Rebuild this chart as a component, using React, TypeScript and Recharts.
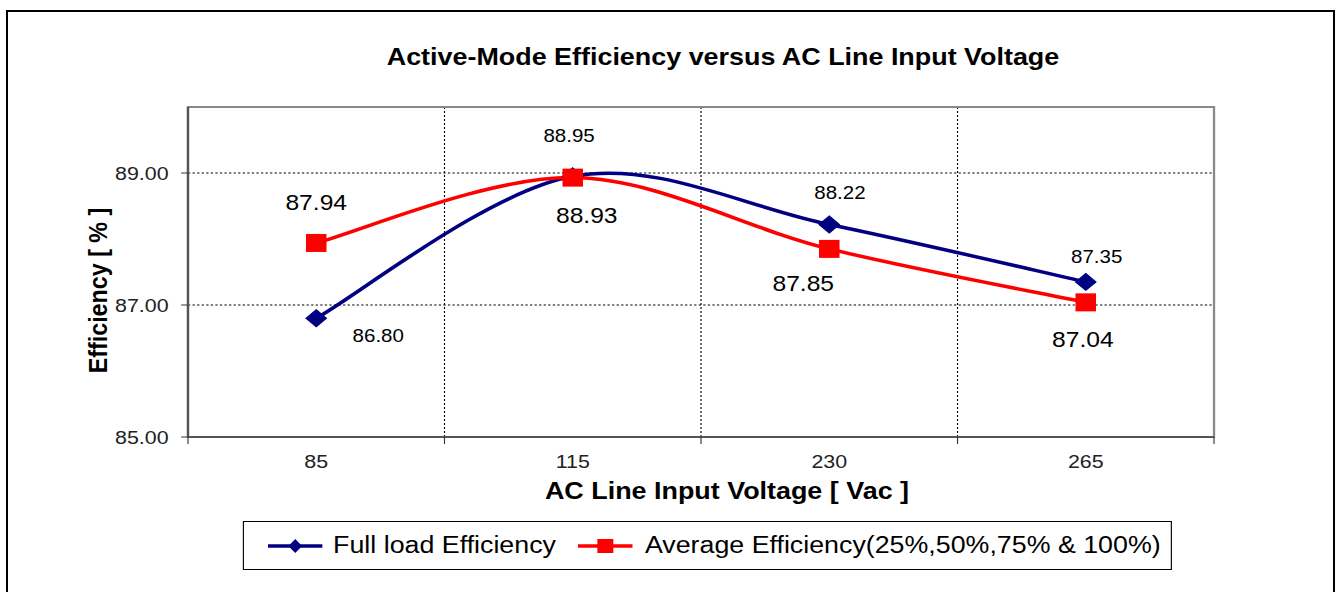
import React from 'react';
import { LineChart, Line, XAxis, YAxis, CartesianGrid, ReferenceArea, Label, LabelList } from 'recharts';

// ---------- data ----------
const categories = ['85', '115', '230', '265'];
const fullLoad = [86.8, 88.95, 88.22, 87.35];
const average = [87.94, 88.93, 87.85, 87.04];
const yTicks = [85, 87, 89];
const yDomain = [85, 90];
const seriesNames = ['Full load Efficiency', 'Average Efficiency(25%,50%,75% & 100%)'];
const chartTitle = 'Active-Mode Efficiency versus AC Line Input Voltage';
const xTitle = 'AC Line Input Voltage [ Vac ]';
const yTitle = 'Efficiency [ % ]';

const data = categories.map((c, i) => ({ idx: i, cat: c, full: fullLoad[i], avg: average[i] }));
const boundTicks = [-0.5, ...categories.map((_, i) => i + 0.5)];
const allXTicks = [...boundTicks, ...categories.map((_, i) => i)].sort((a, b) => a - b);

// ---------- style ----------
const S = 1.14; // horizontal stretch of the original picture
const W = 1340 / S;
const H = 592;
const FONT = '"Liberation Sans", Arial, Helvetica, sans-serif';
const BLUE = '#000080';
const RED = '#FF0000';

// label placement (dx in inner units, dy to label centre)
const blueLabelPos = [[54.4, 17], [-3.2, -40.6], [9.4, -32.3], [9.6, -25.7]];
const redLabelPos = [[0, -40.5], [12.3, 37.4], [-22.8, 34], [-2.6, 36.6]];

// Excel-like smoothing (Catmull-Rom bezier)
const excelSmooth: any = (context: any) => {
  let pts: number[][] = [];
  return {
    areaStart() {},
    areaEnd() {},
    lineStart() { pts = []; },
    point(x: number, y: number) { pts.push([+x, +y]); },
    lineEnd() {
      if (!pts.length) return;
      context.moveTo(pts[0][0], pts[0][1]);
      for (let i = 0; i < pts.length - 1; i++) {
        const p0 = pts[i - 1] || pts[i];
        const p1 = pts[i];
        const p2 = pts[i + 1];
        const p3 = pts[i + 2] || pts[i + 1];
        context.bezierCurveTo(
          p1[0] + (p2[0] - p0[0]) / 6, p1[1] + (p2[1] - p0[1]) / 6,
          p2[0] - (p3[0] - p1[0]) / 6, p2[1] - (p3[1] - p1[1]) / 6,
          p2[0], p2[1]
        );
      }
    },
  };
};

const DiamondDot = (props: any) => {
  const { cx, cy } = props;
  if (cx == null || cy == null) return null;
  return <path d={`M${cx},${cy - 8.5} L${cx + 9},${cy} L${cx},${cy + 8.5} L${cx - 9},${cy} Z`} fill={BLUE} stroke={BLUE} />;
};
const SquareDot = (props: any) => {
  const { cx, cy } = props;
  if (cx == null || cy == null) return null;
  return <rect x={cx - 9} y={cy - 9} width={18} height={18} fill={RED} />;
};

const makeLabel = (pos: number[][], size: number) => (props: any) => {
  const { x, y, index, value } = props;
  const [dx, dy] = pos[index];
  return (
    <text x={x + dx} y={y + dy + size * 0.36} textAnchor="middle" fontSize={size} fontFamily={FONT} fill="#000">
      {Number(value).toFixed(2)}
    </text>
  );
};

const XTick = (props: any) => {
  const { x, y, payload } = props;
  const v = payload.value;
  if (Number.isInteger(v)) {
    return (
      <text x={x} y={y + 18} dy="0.71em" textAnchor="middle" fontSize={18.8} fontFamily={FONT} fill="#222">
        {categories[v]}
      </text>
    );
  }
  return <line x1={x} x2={x} y1={y} y2={y + 7} stroke="#333" strokeWidth={1} />;
};

const LegendIcon = ({ color, kind }: { color: string; kind: string }) => (
  <svg width={48} height={20} style={{ display: 'block' }}>
    <line x1={0} x2={48} y1={10} y2={10} stroke={color} strokeWidth={3.5} />
    {kind === 'diamond' ? (
      <path d="M24,3 L30,10 L24,17 L18,10 Z" fill={color} />
    ) : (
      <rect x={17} y={3} width={14} height={14} fill={color} />
    )}
  </svg>
);

export default function App() {
  return (
    <div style={{ position: 'absolute', left: 0, top: 0, width: 1340, height: H, background: '#fff', overflow: 'hidden' }}>
      <div
        style={{
          position: 'absolute', left: 6, top: 10, width: 1329, height: 620,
          border: '2px solid #000', boxSizing: 'border-box',
        }}
      />
      <div style={{ position: 'absolute', left: 0, top: 0, width: W, height: H, transform: `scaleX(${S})`, transformOrigin: '0 0' }}>
        <LineChart width={W} height={H} data={data} margin={{ top: 107, right: 110.5, bottom: 0, left: 0 }}>
          <CartesianGrid
            stroke="#000"
            strokeDasharray="2 2"
            strokeWidth={1}
            horizontalValues={[87, 89]}
            verticalValues={boundTicks}
          />
          <ReferenceArea x1={-0.5} x2={3.5} y1={85} y2={90} fill="none" stroke="#888" strokeWidth={2} ifOverflow="visible" />
          <XAxis
            type="number"
            dataKey="idx"
            domain={[-0.5, 3.5]}
            ticks={allXTicks}
            interval={0}
            tickLine={false}
            tickSize={0}
            tickMargin={0}
            height={155}
            axisLine={{ stroke: '#555', strokeWidth: 2 }}
            tick={<XTick />}
          >
            <Label
              content={(p: any) => {
                const vb = p.viewBox || {};
                return (
                  <text x={vb.x + vb.width / 2 + 22.8} y={499} textAnchor="middle" fontSize={23.6} fontWeight="bold" fontFamily={FONT} fill="#000">
                    {xTitle}
                  </text>
                );
              }}
            />
          </XAxis>
          <YAxis
            type="number"
            domain={yDomain}
            ticks={yTicks}
            interval={0}
            width={164.9}
            tickSize={6}
            tickMargin={11}
            tickFormatter={(v: number) => v.toFixed(2)}
            tick={{ fontSize: 18.8, fill: '#222', fontFamily: FONT }}
            tickLine={{ stroke: '#333' }}
            axisLine={{ stroke: '#555', strokeWidth: 2 }}
            allowDataOverflow
          >
            <Label
              content={(p: any) => {
                const vb = p.viewBox || {};
                const cy = vb.y + vb.height / 2 + 18.5;
                return (
                  <text
                    x={94}
                    y={cy}
                    transform={`rotate(-90 94 ${cy})`}
                    textAnchor="middle"
                    fontSize={23.3}
                    fontWeight="bold"
                    fontFamily={FONT}
                    fill="#000"
                  >
                    {yTitle}
                  </text>
                );
              }}
            />
          </YAxis>
          <Line
            dataKey="full"
            name={seriesNames[0]}
            type={excelSmooth}
            stroke={BLUE}
            strokeWidth={3.5}
            dot={<DiamondDot />}
            activeDot={false}
            isAnimationActive={false}
          >
            <LabelList dataKey="full" content={makeLabel(blueLabelPos, 18)} />
          </Line>
          <Line
            dataKey="avg"
            name={seriesNames[1]}
            type={excelSmooth}
            stroke={RED}
            strokeWidth={3.5}
            dot={<SquareDot />}
            activeDot={false}
            isAnimationActive={false}
          >
            <LabelList dataKey="avg" content={makeLabel(redLabelPos, 21.6)} />
          </Line>
        </LineChart>
        <svg width={W} height={100} style={{ position: 'absolute', left: 0, top: 0, pointerEvents: 'none' }}>
          <text x={634.2} y={65} textAnchor="middle" fontSize={23.6} fontWeight="bold" fontFamily={FONT} fill="#000">
            {chartTitle}
          </text>
        </svg>
        <div
          style={{
            position: 'absolute', left: 213.2, top: 521, width: 815, height: 49,
            border: '1px solid #000', boxSizing: 'border-box', background: '#fff',
            display: 'flex', alignItems: 'center', paddingLeft: 21,
            fontFamily: FONT, fontSize: 23.5, color: '#000', whiteSpace: 'nowrap',
          }}
        >
          <LegendIcon color={BLUE} kind="diamond" />
          <span style={{ marginLeft: 9, marginRight: 19 }}>{seriesNames[0]}</span>
          <LegendIcon color={RED} kind="square" />
          <span style={{ marginLeft: 11 }}>{seriesNames[1]}</span>
        </div>
      </div>
    </div>
  );
}
